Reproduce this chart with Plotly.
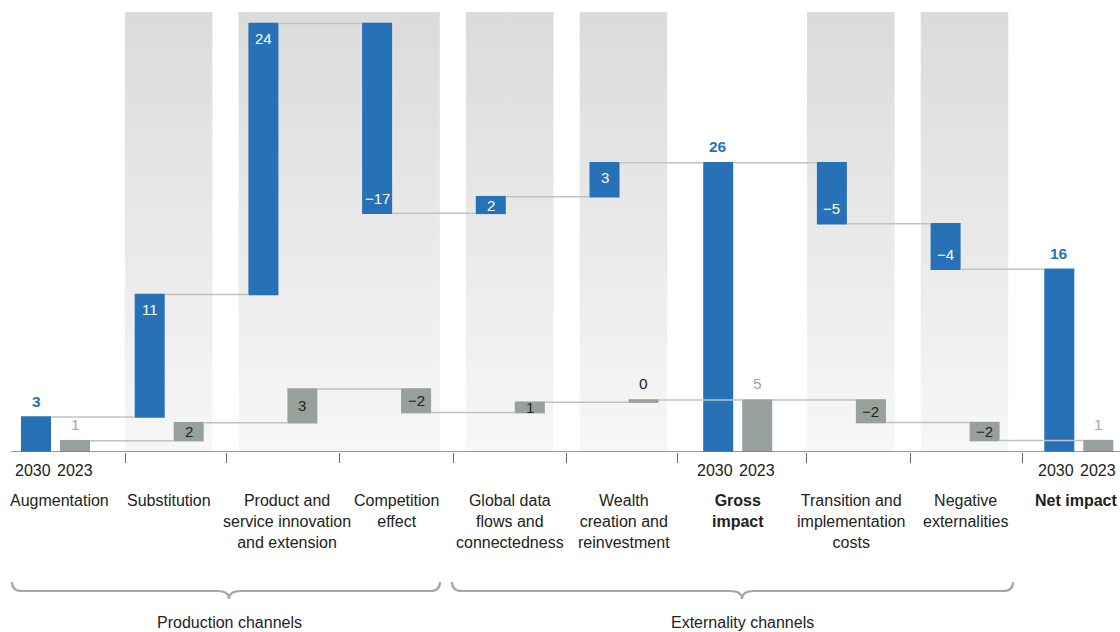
import plotly.graph_objects as go

# ---------------- data ----------------
categories = [
    "Augmentation",
    "Substitution",
    "Product and<br>service innovation<br>and extension",
    "Competition<br>effect",
    "Global data<br>flows and<br>connectedness",
    "Wealth<br>creation and<br>reinvestment",
    "<b>Gross<br>impact</b>",
    "Transition and<br>implementation<br>costs",
    "Negative<br>externalities",
    "<b>Net impact</b>",
]
measures = ["relative"] * 6 + ["total"] + ["relative"] * 2 + ["total"]
values_2030 = [3.15, 11.05, 24.4, -17.1, 1.5, 3.06, 0, -5.5, -4.1, 0]
values_2023 = [1.02, 1.62, 3.04, -2.13, 0.94, 0.2, 0, -2.04, -1.62, 0]
labels_2030 = ["3", "11", "24", "−17", "2", "3", "26", "−5", "−4", "16"]
labels_2023 = ["1", "2", "3", "−2", "1", "0", "5", "−2", "−2", "1"]
year_labels = ["2030", "2023"]
group_labels = ["Production channels", "Externality channels"]

# ---------------- style / layout ----------------
W, H = 1120, 632
BASE_PX = 452            # baseline pixel row
UNIT_PX = 11.1           # pixels per unit
STEP_PX = 113.7          # pixels per category
C0_PX = 55.5             # first category center
BLUE = "#2772b7"
GRAY = "#97a09b"
GRAY_TXT = "#a2a7a4"
DARK = "#222222"
FONT = "Helvetica Neue, Arial, Liberation Sans, sans-serif"
OFF = 0.1715
BW = 0.264

n = len(categories)
x_idx = list(range(n))
x_min = -C0_PX / STEP_PX
x_max = (W - C0_PX) / STEP_PX
y_max = BASE_PX / UNIT_PX


def px2paper_x(px):
    return px / W


def px2paper_y(py):
    return (BASE_PX - py) / BASE_PX


def running(values, meas):
    starts, ends, tot = [], [], 0.0
    for v, m in zip(values, meas):
        if m == "total":
            starts.append(0.0)
            ends.append(tot)
        else:
            starts.append(tot)
            tot += v
            ends.append(tot)
    return starts, ends


fig = go.Figure()

# shaded column bands (gradient) on the primary axes (drawn underneath)
band_spans = [(1, 1), (2, 3), (4, 4), (5, 5), (7, 7), (8, 8)]
band_top = (BASE_PX - 12) / UNIT_PX
for a, b in band_spans:
    x0 = a - 0.39
    x1 = b + 0.38
    fig.add_trace(go.Scatter(
        x=[x0, x1, x1, x0, x0], y=[0, 0, band_top, band_top, 0],
        mode="lines", line=dict(width=0), fill="toself",
        fillgradient=dict(type="vertical",
                          colorscale=[[0, "#f7f7f7"], [1, "#dbdbdb"]]),
        hoverinfo="skip", showlegend=False, xaxis="x", yaxis="y"))

# bars on overlaying axes (drawn on top of the bands)
conn = dict(line=dict(color="#c2c2c2", width=1.5), mode="between")
fig.add_trace(go.Waterfall(
    x=x_idx, y=values_2030, measure=measures, offset=-OFF - BW / 2, width=BW,
    increasing=dict(marker=dict(color=BLUE, line=dict(width=0))),
    decreasing=dict(marker=dict(color=BLUE, line=dict(width=0))),
    totals=dict(marker=dict(color=BLUE, line=dict(width=0))),
    connector=conn, textposition="none", showlegend=False,
    name=year_labels[0], xaxis="x2", yaxis="y2"))
fig.add_trace(go.Waterfall(
    x=x_idx, y=values_2023, measure=measures, offset=OFF - BW / 2, width=BW,
    increasing=dict(marker=dict(color=GRAY, line=dict(width=0))),
    decreasing=dict(marker=dict(color=GRAY, line=dict(width=0))),
    totals=dict(marker=dict(color=GRAY, line=dict(width=0))),
    connector=conn, textposition="none", showlegend=False,
    name=year_labels[1], xaxis="x2", yaxis="y2"))

annotations = []


def add_value_labels(values, labels, dx, is_blue):
    starts, ends = running(values, measures)
    for i in range(n):
        s, e = starts[i], ends[i]
        h_px = abs(e - s) * UNIT_PX
        xc = i + dx
        outside = measures[i] == "total" or i == 0
        tiny = h_px < 4
        if outside or tiny:
            top = max(s, e)
            if tiny:
                col, txt = DARK, labels[i]
            elif is_blue:
                col, txt = BLUE, "<b>%s</b>" % labels[i]
            else:
                col, txt = GRAY_TXT, labels[i]
            annotations.append(dict(
                x=xc, y=top, xref="x2", yref="y2", text=txt, showarrow=False,
                xanchor="center", yanchor="middle", yshift=16,
                font=dict(size=15.5, color=col, family=FONT)))
        else:
            if is_blue:
                d = min(15, h_px / 2) / UNIT_PX
                yy = e - d if e > s else e + d
                col = "white"
            else:
                yy = (s + e) / 2
                col = DARK
            annotations.append(dict(
                x=xc, y=yy, xref="x2", yref="y2", text=labels[i],
                showarrow=False, xanchor="center", yanchor="middle",
                font=dict(size=15, color=col, family=FONT)))


add_value_labels(values_2030, labels_2030, -OFF, True)
add_value_labels(values_2023, labels_2023, OFF, False)

# year labels under the total columns
for i in [0, 6, 9]:
    for k, dx in enumerate([-OFF, OFF]):
        annotations.append(dict(
            x=i + dx, y=px2paper_y(470), xref="x", yref="paper",
            text=year_labels[k], showarrow=False, xanchor="center",
            yanchor="middle", xshift=-3 if k == 0 else 0,
            font=dict(size=16, color=DARK, family=FONT)))

# category labels
cat_shift = [4, 0, 4, 0, 0, 0, 0, 0, 0, -3]
for i, c in enumerate(categories):
    annotations.append(dict(
        x=i, y=px2paper_y(490), xref="x", yref="paper", text=c,
        showarrow=False, xanchor="center", yanchor="top", align="center",
        xshift=cat_shift[i],
        font=dict(size=16, color=DARK, family=FONT)))

# braces + group labels
shapes = []
braces = [(12, 440, 229), (452, 1013, 742)]
for (x0, x1, xc), g in zip(braces, group_labels):
    yl, ye, yt = 591, 582, 599

    def P(px, py):
        return "%.5f,%.5f" % (px2paper_x(px), px2paper_y(py))

    path = ("M " + P(x0, ye) + " Q " + P(x0, yl) + " " + P(x0 + 10, yl) +
            " L " + P(xc - 12, yl) + " Q " + P(xc, yl) + " " + P(xc, yt) +
            " Q " + P(xc, yl) + " " + P(xc + 12, yl) +
            " L " + P(x1 - 10, yl) + " Q " + P(x1, yl) + " " + P(x1, ye))
    shapes.append(dict(type="path", path=path, xref="paper", yref="paper",
                       line=dict(color="#a6a6a6", width=2.2)))
    annotations.append(dict(
        x=px2paper_x(xc), y=px2paper_y(622), xref="paper", yref="paper",
        text=g, showarrow=False, xanchor="center", yanchor="middle",
        font=dict(size=16, color=DARK, family=FONT)))

# baseline
shapes.append(dict(type="line", xref="x", yref="y", x0=-0.39, x1=x_max,
                   y0=0, y1=0, line=dict(color="#7a7a7a", width=1.5)))

tick_px = [125, 226, 339, 453, 566, 677, 806, 910, 1022]
tick_vals = [(p - C0_PX) / STEP_PX for p in tick_px]

fig.update_layout(
    width=W, height=H,
    margin=dict(l=0, r=0, t=0, b=H - BASE_PX, pad=0),
    paper_bgcolor="white", plot_bgcolor="white",
    xaxis=dict(range=[x_min, x_max], showgrid=False, zeroline=False,
               showline=False, tickvals=tick_vals, ticks="outside",
               ticklen=10, tickwidth=1.2, tickcolor="#6a6a6a",
               showticklabels=False, fixedrange=True),
    yaxis=dict(range=[0, y_max], showgrid=False, zeroline=False,
               showline=False, showticklabels=False, fixedrange=True),
    xaxis2=dict(range=[x_min, x_max], overlaying="x", visible=False,
                fixedrange=True),
    yaxis2=dict(range=[0, y_max], overlaying="y", visible=False,
                fixedrange=True),
    waterfallmode="overlay",
    annotations=annotations, shapes=shapes,
    font=dict(family=FONT),
)

fig.write_html("out.html")
